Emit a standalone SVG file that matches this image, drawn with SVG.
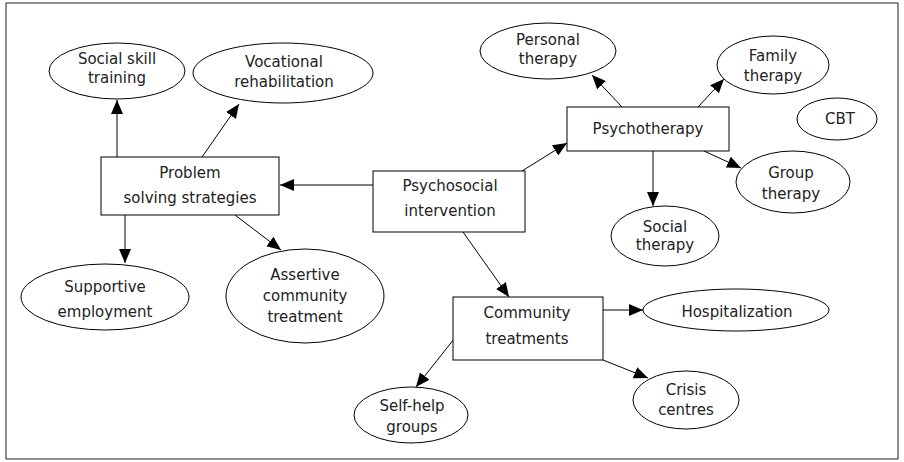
<svg xmlns="http://www.w3.org/2000/svg" width="904" height="462" viewBox="0 0 904 462">
<style>
.n{fill:#fff;stroke:#000;stroke-width:1}
.t{font-family:"DejaVu Sans","Liberation Sans",sans-serif;font-size:15px;fill:#222;text-anchor:middle}
.c{stroke:#000;stroke-width:1;fill:none;marker-end:url(#ah)}
</style>
<defs>
<marker id="ah" markerUnits="userSpaceOnUse" markerWidth="14" markerHeight="12" refX="14" refY="6" orient="auto">
<path d="M0,0 L14,6 L0,12 Z" fill="#000"/>
</marker>
</defs>
<rect x="0" y="0" width="904" height="462" fill="#fff"/>
<rect x="6" y="3" width="892" height="456" fill="none" stroke="#444" stroke-width="1.2"/>
<g id="connectors">
<line class="c" x1="117" y1="157" x2="117" y2="100"/>
<line class="c" x1="202" y1="157" x2="239" y2="104"/>
<line class="c" x1="373" y1="185" x2="280" y2="185"/>
<line class="c" x1="125" y1="215" x2="125" y2="263"/>
<line class="c" x1="235" y1="215" x2="281" y2="250"/>
<line class="c" x1="522" y1="171" x2="567" y2="143"/>
<line class="c" x1="622" y1="107" x2="592" y2="75"/>
<line class="c" x1="698" y1="107" x2="724" y2="79"/>
<line class="c" x1="704" y1="151" x2="741" y2="168"/>
<line class="c" x1="653" y1="151" x2="653" y2="206"/>
<line class="c" x1="463" y1="232" x2="509" y2="297"/>
<line class="c" x1="603" y1="310" x2="643" y2="310"/>
<line class="c" x1="603" y1="360" x2="648" y2="378"/>
<line class="c" x1="454" y1="339" x2="416" y2="387"/>
</g>
<g id="social-skill"><ellipse class="n" cx="117" cy="71" rx="68" ry="28"/><text class="t" x="117" y="64">Social skill</text><text class="t" x="117" y="83">training</text></g>
<g id="vocational"><ellipse class="n" cx="283" cy="73" rx="90" ry="30"/><text class="t" x="284" y="67">Vocational</text><text class="t" x="284" y="87">rehabilitation</text></g>
<g id="problem"><rect class="n" x="101" y="157" width="178" height="58"/><text class="t" x="190" y="178">Problem</text><text class="t" x="190" y="203">solving strategies</text></g>
<g id="psychosocial"><rect class="n" x="373" y="171" width="152" height="61"/><text class="t" x="450" y="191">Psychosocial</text><text class="t" x="450" y="216">intervention</text></g>
<g id="psychotherapy"><rect class="n" x="567" y="107" width="162" height="44"/><text class="t" x="648" y="134">Psychotherapy</text></g>
<g id="personal"><ellipse class="n" cx="548" cy="51" rx="68" ry="28"/><text class="t" x="548" y="45">Personal</text><text class="t" x="548" y="64">therapy</text></g>
<g id="family"><ellipse class="n" cx="773" cy="65" rx="56" ry="29"/><text class="t" x="773" y="61">Family</text><text class="t" x="773" y="81">therapy</text></g>
<g id="cbt"><ellipse class="n" cx="837" cy="119" rx="40" ry="21"/><text class="t" x="840" y="124">CBT</text></g>
<g id="group"><ellipse class="n" cx="793" cy="182" rx="57" ry="31"/><text class="t" x="791" y="178">Group</text><text class="t" x="791" y="199">therapy</text></g>
<g id="social-therapy"><ellipse class="n" cx="665" cy="236" rx="54" ry="30"/><text class="t" x="665" y="232">Social</text><text class="t" x="665" y="250">therapy</text></g>
<g id="community"><rect class="n" x="453" y="297" width="150" height="63"/><text class="t" x="527" y="318">Community</text><text class="t" x="527" y="344">treatments</text></g>
<g id="hospitalization"><ellipse class="n" cx="736" cy="310" rx="93" ry="21"/><text class="t" x="737" y="317">Hospitalization</text></g>
<g id="crisis"><ellipse class="n" cx="686" cy="400" rx="53" ry="29"/><text class="t" x="686" y="395">Crisis</text><text class="t" x="686" y="415">centres</text></g>
<g id="self-help"><ellipse class="n" cx="411" cy="415" rx="57" ry="28"/><text class="t" x="412" y="411">Self-help</text><text class="t" x="412" y="432">groups</text></g>
<g id="supportive"><ellipse class="n" cx="105" cy="297" rx="84" ry="33"/><text class="t" x="105" y="292">Supportive</text><text class="t" x="105" y="317">employment</text></g>
<g id="assertive"><ellipse class="n" cx="305" cy="296" rx="79" ry="47"/><text class="t" x="305" y="280">Assertive</text><text class="t" x="305" y="301">community</text><text class="t" x="305" y="322">treatment</text></g>
</svg>
